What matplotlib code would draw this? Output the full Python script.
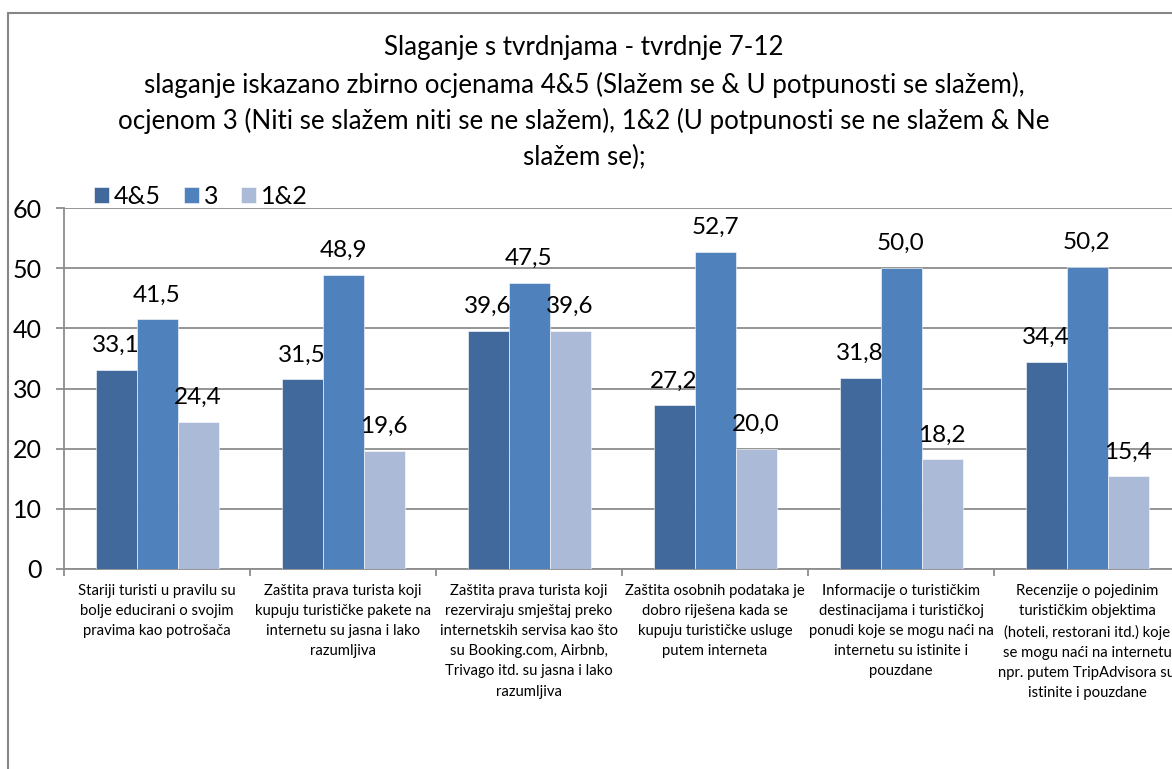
import matplotlib
matplotlib.use("Agg")
import matplotlib.pyplot as plt
import matplotlib.patches as mpatches
import numpy as np

plt.rcParams['font.family'] = ['Lato', 'DejaVu Sans']

categories = [
    "Stariji turisti u pravilu su\nbolje educirani o svojim\npravima kao potrošača",
    "Zaštita prava turista koji\nkupuju turističke pakete na\ninternetu su jasna i lako\nrazumljiva",
    "Zaštita prava turista koji\nrezerviraju smještaj preko\ninternetskih servisa kao što\nsu Booking.com, Airbnb,\nTrivago itd. su jasna i lako\nrazumljiva",
    "Zaštita osobnih podataka je\ndobro riješena kada se\nkupuju turističke usluge\nputem interneta",
    "Informacije o turističkim\ndestinacijama i turističkoj\nponudi koje se mogu naći na\ninternetu su istinite i\npouzdane",
    "Recenzije o pojedinim\nturističkim objektima\n(hoteli, restorani itd.) koje\nse mogu naći na internetu\nnpr. putem TripAdvisora su\nistinite i pouzdane",
]
series_names = ["4&5", "3", "1&2"]
values_45 = [33.1, 31.5, 39.6, 27.2, 31.8, 34.4]
values_3 = [41.5, 48.9, 47.5, 52.7, 50.0, 50.2]
values_12 = [24.4, 19.6, 39.6, 20.0, 18.2, 15.4]
y_ticks = [0, 10, 20, 30, 40, 50, 60]
title_lines = [
    "Slaganje s tvrdnjama - tvrdnje 7-12",
    "slaganje iskazano zbirno ocjenama 4&5 (Slažem se & U potpunosti se slažem),",
    "ocjenom 3 (Niti se slažem niti se ne slažem), 1&2 (U potpunosti se ne slažem & Ne",
    "slažem se);",
]

colors = ["#41699C", "#4F81BD", "#AABAD7"]
grid_c = "#8C8C8C"

W, H = 1172, 769
fig = plt.figure(figsize=(W / 100, H / 100), dpi=100)
fig.patch.set_facecolor("white")

# outer chart border (only left/top visible in crop)
border = mpatches.Rectangle((8 / W, -0.1), 1.2, (H - 13) / H + 0.1,
                            transform=fig.transFigure, fill=False,
                            edgecolor="#868686", linewidth=1.5, zorder=0)
fig.patches.append(border)

left, right = 64 / W, 1180 / W
bottom, top = (H - 569) / H, (H - 208) / H
ax = fig.add_axes([left, bottom, right - left, top - bottom])

x = np.arange(len(categories))
bw = 41 / 186
all_vals = [values_45, values_3, values_12]
for i, (vals, name, c) in enumerate(zip(all_vals, series_names, colors)):
    bars = ax.bar(x + (i - 1) * bw, vals, width=bw, color=c, label=name,
                  edgecolor="#FFFFFF", linewidth=0.4, zorder=3)
    ax.bar_label(bars, labels=[f"{v:.1f}".replace(".", ",") for v in vals],
                 padding=10, fontsize=17.5, color="black", zorder=4)

ax.set_xlim(-0.5, len(categories) - 0.5)
ax.set_ylim(0, 60)
ax.set_yticks(y_ticks)
ax.set_yticklabels([str(t) for t in y_ticks], fontsize=18)
ax.yaxis.grid(True, color=grid_c, linewidth=1.3, zorder=0)
ax.set_axisbelow(True)

ax.set_xticks(x)
ax.set_xticklabels(categories, fontsize=10.7, linespacing=1.55, va="top")
ax.tick_params(axis="x", which="major", length=0, pad=11)
ax.set_xticks(np.arange(-0.5, len(categories)), minor=True)
ax.tick_params(axis="x", which="minor", length=5, color=grid_c, width=1.3)
ax.tick_params(axis="y", length=6, color=grid_c, width=1.3, pad=10)

for s in ["top", "right"]:
    ax.spines[s].set_visible(False)
for s in ["left", "bottom"]:
    ax.spines[s].set_color(grid_c)
    ax.spines[s].set_linewidth(1.3)

# title
ys = [48, 85, 121, 157]
for t, yy in zip(title_lines, ys):
    fig.text(584 / W, 1 - yy / H, t, ha="center", va="center", fontsize=18.7)

leg = ax.legend(loc="center left", bbox_to_anchor=(94 / W, 1 - 196 / H),
                bbox_transform=fig.transFigure, ncol=3, frameon=False,
                fontsize=18, handlelength=0.6, handleheight=0.6,
                handletextpad=0.2, columnspacing=0.9, borderaxespad=0,
                borderpad=0)

fig.savefig("out.png", dpi=100)
